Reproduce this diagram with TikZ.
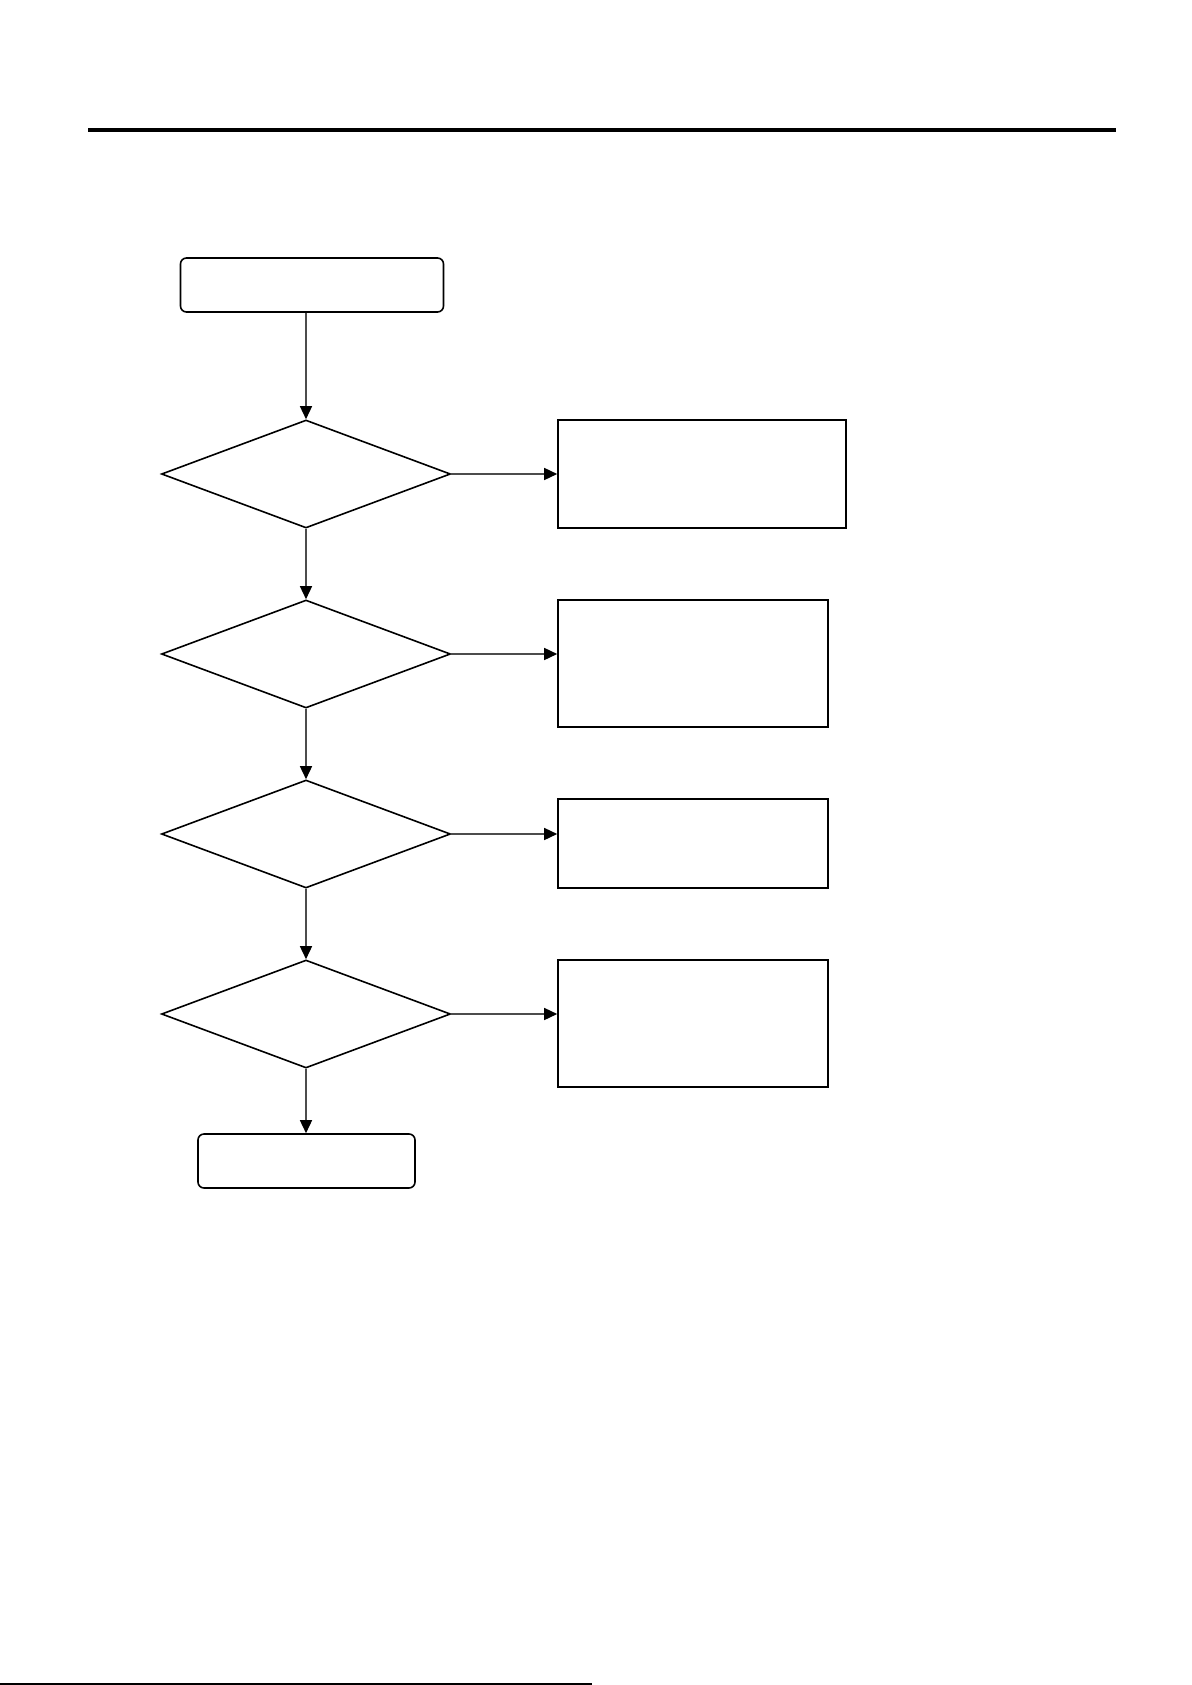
\documentclass[tikz,border=0pt]{standalone}
\usetikzlibrary{shapes.geometric,arrows.meta}
\begin{document}
\begin{tikzpicture}[x=1pt,y=-1pt,
  boxline/.style={draw=black,line width=1.6pt,inner sep=0pt,fill=white},
  termbox/.style={boxline,rectangle,rounded corners=6pt},
  actbox/.style={boxline,rectangle},
  decbox/.style={boxline,diamond,minimum width=289pt,minimum height=108pt},
  conn/.style={draw=black!70,line width=1.5pt,-{Triangle[length=13pt,width=12pt,fill=black,color=black]}}]
\useasboundingbox[fill=white] (0,0) rectangle (1191,1685);
% header and footer rules
\coordinate (hl) at (88,130);
\coordinate (hr) at (1116,130);
\draw[line width=4pt] (hl) -- (hr);
\coordinate (fl) at (0,1684);
\coordinate (fr) at (592,1684);
\draw[line width=1.5pt] (fl) -- (fr);
% nodes
\node[termbox,minimum width=263pt,minimum height=54pt] (start) at (312,285) {};
\node[decbox] (d1) at (306,474) {};
\node[decbox] (d2) at (306,654) {};
\node[decbox] (d3) at (306,834) {};
\node[decbox] (d4) at (306,1014) {};
\node[actbox,minimum width=288pt,minimum height=108pt] (b1) at (702,474) {};
\node[actbox,minimum width=270pt,minimum height=127pt] (b2) at (693,663.5) {};
\node[actbox,minimum width=270pt,minimum height=89pt] (b3) at (693,843.5) {};
\node[actbox,minimum width=270pt,minimum height=127pt] (b4) at (693,1023.5) {};
\node[termbox,minimum width=217pt,minimum height=54pt] (end) at (306.5,1161) {};
% connectors
\draw[conn] (d1.north |- start.south) -- (d1.north);
\draw[conn] (d1.south) -- (d2.north);
\draw[conn] (d2.south) -- (d3.north);
\draw[conn] (d3.south) -- (d4.north);
\draw[conn] (d4.south) -- (end.north -| d4.south);
\draw[conn] (d1.east) -- (b1.west |- d1.east);
\draw[conn] (d2.east) -- (b2.west |- d2.east);
\draw[conn] (d3.east) -- (b3.west |- d3.east);
\draw[conn] (d4.east) -- (b4.west |- d4.east);
\end{tikzpicture}
\end{document}
